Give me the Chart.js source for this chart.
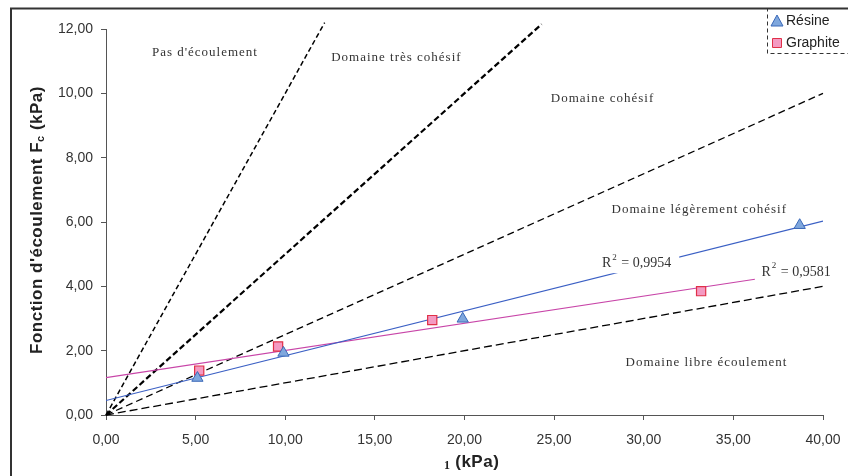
<!DOCTYPE html>
<html>
<head>
<meta charset="utf-8">
<script src="https://cdn.jsdelivr.net/npm/chart.js@4.4.1/dist/chart.umd.min.js"></script>
<style>
  html, body { margin: 0; padding: 0; background: #fff; }
  #wrap { width: 848px; height: 476px; position: relative; }
</style>
</head>
<body>
<div id="wrap"><canvas id="chart" width="848" height="476"></canvas></div>
<script>
/* global Chart */

// measured points
const resineX = [5.1, 9.9, 19.9, 38.7];
const resineY = [1.15, 1.93, 2.99, 5.9];
const graphiteX = [5.2, 9.6, 18.2, 33.2];
const graphiteY = [1.38, 2.13, 2.95, 3.85];

// trend lines (end points)
const resineTrendX = [0, 40];
const resineTrendY = [0.45, 6.03];
const graphiteTrendX = [0, 36.2];
const graphiteTrendY = [1.16, 4.22];

// flowability limits ffc = 1, 2, 4, 10 (start at origin)
const limitEndX = [12.2, 24.3, 40, 40];
const limitEndY = [12.2, 12.15, 10, 4];

const xTicks = [0, 5, 10, 15, 20, 25, 30, 35, 40];
const yTicks = [0, 2, 4, 6, 8, 10, 12];

const zoneLabels = ['Pas d\'écoulement', 'Domaine très cohésif', 'Domaine cohésif',
  'Domaine légèrement cohésif', 'Domaine libre écoulement'];
const r2Labels = ['0,9954', '0,9581'];

const pts = (xs, ys) => xs.map((x, i) => ({x, y: ys[i]}));
const comma = v => v.toFixed(2).replace('.', ',');

const limitStyles = [
  {width: 1.5, dash: [5, 3]},
  {width: 2.2, dash: [6, 3]},
  {width: 1.3, dash: [7, 4]},
  {width: 1.3, dash: [8, 4]}
];

const limitSets = limitEndX.map((x, i) => ({
  type: 'line',
  data: [{x: 0, y: 0}, {x, y: limitEndY[i]}],
  borderColor: '#000',
  borderWidth: limitStyles[i].width,
  borderDash: limitStyles[i].dash,
  pointRadius: 0,
  clip: false
}));

const textPlugin = {
  id: 'texts',
  afterDatasetsDraw(chart) {
    const {ctx, scales: {x, y}} = chart;
    ctx.save();
    ctx.fillStyle = '#333';
    ctx.textAlign = 'center';
    ctx.textBaseline = 'middle';
    ctx.font = '13px "Liberation Serif"';
    ctx.letterSpacing = '1px';
    const zonePos = [[5.52, 11.28], [16.2, 11.1], [27.7, 9.85], [33.1, 6.4], [33.5, 1.62]];
    zoneLabels.forEach((t, i) => {
      ctx.fillText(t, x.getPixelForValue(zonePos[i][0]), y.getPixelForValue(zonePos[i][1]));
    });
    ctx.letterSpacing = '0px';

    // R² labels with white background
    const r2Pos = [[29.6, 4.72], [38.5, 4.45]];
    r2Labels.forEach((v, i) => {
      const cx = x.getPixelForValue(r2Pos[i][0]);
      const cy = y.getPixelForValue(r2Pos[i][1]);
      ctx.font = '14px "Liberation Serif"';
      const rest = ' = ' + v;
      const wR = ctx.measureText('R').width;
      const wRest = ctx.measureText(rest).width;
      ctx.font = '9px "Liberation Serif"';
      const wSup = ctx.measureText('2').width + 2;
      const total = wR + wSup + wRest;
      const left = cx - total / 2;
      ctx.fillStyle = '#fff';
      ctx.fillRect(left - 4, cy - 10, total + 12, 20);
      ctx.fillStyle = '#333';
      ctx.textAlign = 'left';
      ctx.font = '14px "Liberation Serif"';
      ctx.fillText('R', left, cy);
      ctx.font = '9px "Liberation Serif"';
      ctx.fillText('2', left + wR + 1, cy - 6);
      ctx.font = '14px "Liberation Serif"';
      ctx.fillText(rest, left + wR + wSup, cy);
      ctx.textAlign = 'center';
    });
    ctx.restore();
  },
  afterDraw(chart) {
    const {ctx, chartArea} = chart;
    ctx.save();
    // outer frame
    ctx.strokeStyle = '#333';
    ctx.lineWidth = 2;
    ctx.beginPath();
    ctx.moveTo(11, 476);
    ctx.lineTo(11, 8.5);
    ctx.lineTo(848, 8.5);
    ctx.stroke();

    // y axis title with subscript
    ctx.fillStyle = '#222';
    ctx.textBaseline = 'middle';
    ctx.textAlign = 'left';
    ctx.letterSpacing = '0.5px';
    const big = 'bold 17px Arial, "Liberation Sans"';
    const small = 'bold 11px Arial, "Liberation Sans"';
    const p1 = 'Fonction d\'écoulement F', p2 = 'c', p3 = ' (kPa)';
    ctx.font = big;
    const w1 = ctx.measureText(p1).width, w3 = ctx.measureText(p3).width;
    ctx.font = small;
    const w2 = ctx.measureText(p2).width;
    const tot = w1 + w2 + w3;
    ctx.translate(37, (chartArea.top + chartArea.bottom) / 2 - 2);
    ctx.rotate(-Math.PI / 2);
    ctx.font = big;
    ctx.fillText(p1, -tot / 2, 0);
    ctx.font = small;
    ctx.fillText(p2, -tot / 2 + w1, 4);
    ctx.font = big;
    ctx.fillText(p3, -tot / 2 + w1 + w2, 0);
    ctx.setTransform(1, 0, 0, 1, 0, 0);

    // x axis title
    ctx.letterSpacing = '0px';
    ctx.font = 'bold 12px "Liberation Serif"';
    ctx.fillText('1', 444, 466);
    ctx.letterSpacing = '0.5px';
    ctx.font = big;
    ctx.fillText(' (kPa)', 450, 462);
    ctx.letterSpacing = '0px';

    // legend
    ctx.strokeStyle = '#333';
    ctx.lineWidth = 1;
    ctx.setLineDash([4, 3]);
    ctx.strokeRect(767.5, 8.5, 100, 45);
    ctx.setLineDash([]);
    const items = [
      {label: 'Résine', style: 'triangle', fill: '#7fa7dd', stroke: '#3a68b8', y: 21},
      {label: 'Graphite', style: 'rect', fill: '#f49ac2', stroke: '#e03048', y: 43}
    ];
    items.forEach(it => {
      ctx.fillStyle = it.fill;
      ctx.strokeStyle = it.stroke;
      ctx.beginPath();
      if (it.style === 'triangle') {
        ctx.moveTo(777, it.y - 6);
        ctx.lineTo(783, it.y + 5);
        ctx.lineTo(771, it.y + 5);
        ctx.closePath();
      } else {
        ctx.rect(772.5, it.y - 4.5, 9, 9);
      }
      ctx.fill();
      ctx.stroke();
      ctx.fillStyle = '#222';
      ctx.font = '14px Arial, "Liberation Sans"';
      ctx.fillText(it.label, 786, it.y);
    });
    ctx.restore();
  }
};

new Chart(document.getElementById('chart').getContext('2d'), {
  type: 'scatter',
  data: {
    datasets: [
      {
        label: 'Résine',
        data: pts(resineX, resineY),
        pointStyle: 'triangle',
        pointRadius: 6.5,
        backgroundColor: '#7fa7dd',
        borderColor: '#3a68b8',
        borderWidth: 1
      },
      {
        label: 'Graphite',
        data: pts(graphiteX, graphiteY),
        pointStyle: 'rect',
        pointRadius: 6.5,
        backgroundColor: '#f49ac2',
        borderColor: '#e03048',
        borderWidth: 1.2
      },
      {
        type: 'line',
        data: pts(resineTrendX, resineTrendY),
        borderColor: '#3a5fc4',
        borderWidth: 1.2,
        pointRadius: 0
      },
      {
        type: 'line',
        data: pts(graphiteTrendX, graphiteTrendY),
        borderColor: '#c845a8',
        borderWidth: 1.2,
        pointRadius: 0
      },
      ...limitSets
    ]
  },
  options: {
    responsive: false,
    animation: false,
    layout: {padding: {top: 29, right: 25, left: 0, bottom: 0}},
    plugins: {legend: {display: false}, tooltip: {enabled: false}},
    scales: {
      x: {
        type: 'linear',
        min: 0,
        max: 40,
        afterBuildTicks: s => { s.ticks = xTicks.map(value => ({value})); },
        afterFit: s => { s.height = 61; s.paddingLeft = 0; s.paddingRight = 0; },
        grid: {drawOnChartArea: false, drawTicks: true, tickLength: 5, color: '#555'},
        border: {display: true, color: '#555', width: 1},
        ticks: {
          callback: comma, color: '#333', padding: 12, maxRotation: 0,
          font: {family: 'Arial, "Liberation Sans"', size: 14}
        }
      },
      y: {
        type: 'linear',
        min: 0,
        max: 12,
        afterBuildTicks: s => { s.ticks = yTicks.map(value => ({value})); },
        afterFit: s => { s.width = 106; s.paddingTop = 0; s.paddingBottom = 0; },
        grid: {drawOnChartArea: false, drawTicks: true, tickLength: 5, color: '#555'},
        border: {display: true, color: '#555', width: 1},
        ticks: {
          callback: comma, color: '#333', padding: 8,
          font: {family: 'Arial, "Liberation Sans"', size: 14}
        }
      }
    }
  },
  plugins: [textPlugin]
});
</script>
</body>
</html>
